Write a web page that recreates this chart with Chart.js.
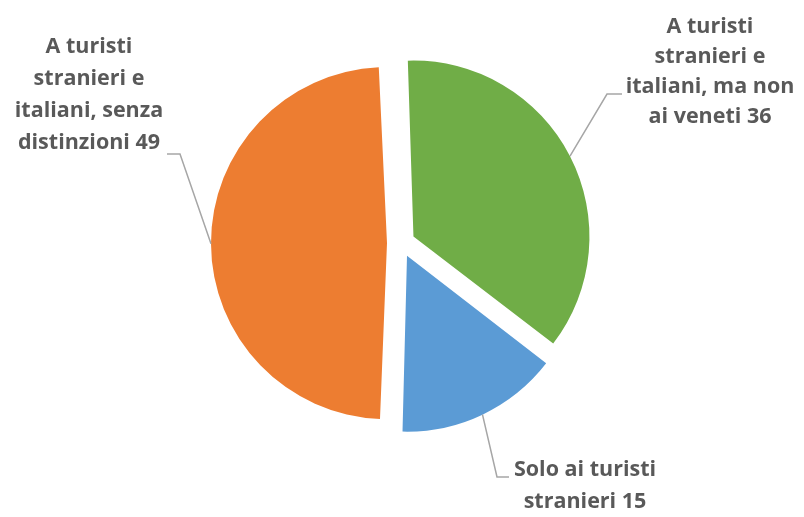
<!DOCTYPE html>
<html>
<head>
<meta charset="utf-8">
<script src="https://cdn.jsdelivr.net/npm/chart.js@4.4.0/dist/chart.umd.min.js"></script>
<style>
  body { margin: 0; background: #fff; }
  #wrap { width: 804px; height: 517px; position: relative; }
</style>
</head>
<body>
<div id="wrap"><canvas id="pie" width="804" height="517"></canvas></div>
<script>
// data
var categories = ['A turisti stranieri e italiani, ma non ai veneti', 'Solo ai turisti stranieri', 'A turisti stranieri e italiani, senza distinzioni'];
var values = [36, 15, 49];
var colors = ['#70AD47', '#5B9BD5', '#ED7D31'];
// how each label is broken into lines (value added at the end)
var labelLines = [
  ['A turisti', 'stranieri e', 'italiani, ma non', 'ai veneti'],
  ['Solo ai turisti', 'stranieri'],
  ['A turisti', 'stranieri e', 'italiani, senza', 'distinzioni']
];

// label box placement: centre x, first baseline, line gap, elbow of leader, end of leader
var labelLayout = [
  { cx: 710, y0: 33, gap: 30, elbow: [607, 94], end: [622, 94] },
  { cx: 585, y0: 476, gap: 32, elbow: [497, 477], end: [509, 477] },
  { cx: 89, y0: 53, gap: 32, elbow: [180, 154], end: [167, 154] }
];
var R = 176;      // pie radius
var PULL = 14;    // how far each slice is pulled out

var calloutPlugin = {
  id: 'callouts',
  // chart.js moves an arc by offset/4 and grows its radius by (offset/4)*fix,
  // so undo the growth to keep all slices the same size
  afterDatasetUpdate: function(chart) {
    chart.getDatasetMeta(0).data.forEach(function(arc) {
      var c = arc.endAngle - arc.startAngle;
      var fix = 1 - Math.sin(Math.min(Math.PI, c));
      arc.outerRadius = R - PULL * fix;
    });
  },
  afterDatasetsDraw: function(chart) {
    var ctx = chart.ctx;
    var meta = chart.getDatasetMeta(0);
    ctx.save();
    meta.data.forEach(function(arc, i) {
      var mid = (arc.startAngle + arc.endAngle) / 2;
      var dist = PULL + R;
      var ax = arc.x + Math.cos(mid) * dist;
      var ay = arc.y + Math.sin(mid) * dist;
      var lay = labelLayout[i];
      ctx.strokeStyle = '#A6A6A6';
      ctx.lineWidth = 1.5;
      ctx.beginPath();
      ctx.moveTo(ax, ay);
      ctx.lineTo(lay.elbow[0], lay.elbow[1]);
      ctx.lineTo(lay.end[0], lay.end[1]);
      ctx.stroke();

      ctx.fillStyle = '#595959';
      ctx.font = 'bold 21.5px "Open Sans"';
      ctx.textAlign = 'center';
      ctx.textBaseline = 'alphabetic';
      var lines = labelLines[i].slice();
      lines[lines.length - 1] = lines[lines.length - 1] + ' ' + values[i];
      lines.forEach(function(t, k) {
        ctx.fillText(t, lay.cx, lay.y0 + k * lay.gap);
      });
    });
    ctx.restore();
  }
};

var chart = new Chart(document.getElementById('pie'), {
  type: 'pie',
  data: {
    labels: categories,
    datasets: [{
      data: values,
      backgroundColor: colors,
      borderWidth: 0,
      offset: PULL * 4,
      radius: R
    }]
  },
  options: {
    responsive: false,
    animation: false,
    rotation: -2,
    layout: { padding: { left: 0, right: 2, top: 0, bottom: 31 } },
    plugins: {
      legend: { display: false },
      tooltip: { enabled: false }
    }
  },
  plugins: [calloutPlugin]
});
</script>
</body>
</html>
